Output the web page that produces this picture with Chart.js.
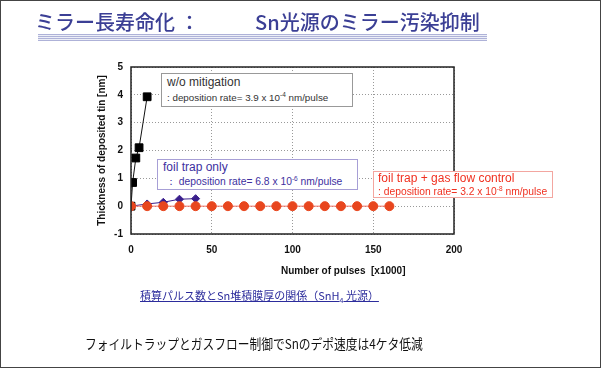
<!DOCTYPE html>
<html>
<head>
<meta charset="utf-8">
<script src="https://cdn.jsdelivr.net/npm/chart.js@4"></script>
<style>
  body { margin: 0; background: #fff; }
  .page { position: relative; width: 601px; height: 368px; overflow: hidden; background: #fff; }
  .frame { position: absolute; left: 0; top: 0; width: 601px; height: 368px; box-sizing: border-box; border: 1px solid #444; pointer-events: none; }
  #myChart { position: absolute; left: 0; top: 0; }
  .jp { font-family: "Noto Sans CJK JP", sans-serif; position: absolute; white-space: nowrap; }
  .title { color: #3b3f95; font-size: 20px; top: 8px; line-height: 28px; font-weight: 500; }
  .rule { position: absolute; left: 38px; top: 34px; width: 449px; height: 7px;
          background: repeating-linear-gradient(#aeb2d8 0 1px, #eceef7 1px 2px); }
  .caption { left: 140px; top: 287px; font-size: 11px; color: #2c2c9c; text-decoration: underline; line-height: 16px; }
  .caption sub { font-size: 7px; }
  .summary { left: 85px; top: 334px; font-size: 13.5px; color: #111; line-height: 18px; transform: scaleX(0.87); transform-origin: left; }
  .box { position: absolute; background: #fff; font-family: "Liberation Sans", Arial, sans-serif; }
  .box span { position: absolute; white-space: nowrap; }
  .box sup { font-size: 6.5px; vertical-align: 4px; }
  .xtitle { position: absolute; left: 281px; top: 265px; font: bold 10px "Liberation Sans", Arial, sans-serif; color: #111; white-space: pre; }
</style>
</head>
<body>
<div class="page">
  <canvas id="myChart" width="601" height="368"></canvas>

  <div class="jp title" style="left:35px">ミラー長寿命化 ：</div>
  <div class="jp title" style="left:255px">Sn光源のミラー汚染抑制</div>
  <div class="rule"></div>

  <div class="xtitle">Number of pulses  [x1000]</div>

  <div class="box" style="left:161px; top:73px; width:190px; height:32px; border:1px solid #999; color:#333;">
    <span style="left:5px; top:1px; font-size:12px;">w/o mitigation</span>
    <span style="left:5px; top:17px; font-size:9.8px;">: deposition rate= 3.9 x 10<sup>-4</sup> nm/pulse</span>
  </div>

  <div class="box" style="left:157px; top:159px; width:199px; height:29px; border:1px solid #a79fd6; color:#4030a0;">
    <span style="left:5px; top:0px; font-size:12px;">foil trap only</span>
    <span style="left:8px; top:15px; font-size:10.3px;">：&nbsp;deposition rate= 6.8 x 10<sup>-6</sup> nm/pulse</span>
  </div>

  <div class="box" style="left:373px; top:171px; width:178px; height:25px; border:1px solid #f3a6a0; color:#f03020;">
    <span style="left:4px; top:-1px; font-size:12px;">foil trap + gas flow control</span>
    <span style="left:4px; top:13px; font-size:10.3px;">: deposition rate= 3.2 x 10<sup>-8</sup> nm/pulse</span>
  </div>

  <div class="jp caption">積算パルス数とSn堆積膜厚の関係（SnH<sub>4</sub> 光源）</div>
  <div class="jp summary">フォイルトラップとガスフロー制御でSnのデポ速度は4ケタ低減</div>

  <div class="frame"></div>
</div>

<script>
// データ
const noMitigationX = [0, 1, 3, 5, 10];
const noMitigationY = [0, 0.85, 1.73, 2.1, 3.93];

const foilTrapX = [0, 10, 20, 30, 40];
const foilTrapY = [0, 0.08, 0.14, 0.25, 0.27];

const gasFlowX = [0, 10, 20, 30, 40, 50, 60, 70, 80, 90, 100, 110, 120, 130, 140, 150, 160];
const gasFlowY = [0, 0, 0, 0, 0, 0, 0, 0, 0, 0, 0, 0, 0, 0, 0, 0, 0];

const xTicks = [0, 50, 100, 150, 200];
const yTicks = [-1, 0, 1, 2, 3, 4, 5];

const toPoints = (xs, ys) => xs.map((x, i) => ({ x: x, y: ys[i] }));

// 枠線
const framePlugin = {
  id: 'frame',
  afterDraw(chart) {
    const { ctx, chartArea } = chart;
    ctx.save();
    ctx.setLineDash([]);
    ctx.strokeStyle = '#222';
    ctx.lineWidth = 1.5;
    ctx.strokeRect(chartArea.left, chartArea.top, chartArea.right - chartArea.left, chartArea.bottom - chartArea.top);
    ctx.restore();
  },
};

const tickFont = { family: '"Liberation Sans", Arial, sans-serif', size: 10, weight: 'bold' };

const ctx = document.getElementById('myChart');
new Chart(ctx, {
  type: 'line',
  data: {
    datasets: [
      {
        label: 'foil trap + gas flow control',
        data: toPoints(gasFlowX, gasFlowY),
        borderColor: '#f07060',
        borderWidth: 1,
        backgroundColor: '#e8461e',
        pointBorderColor: '#e8461e',
        pointStyle: 'circle',
        pointRadius: 4.5,
      },
      {
        label: 'foil trap only',
        data: toPoints(foilTrapX, foilTrapY),
        borderColor: '#3a1f8c',
        borderWidth: 1,
        backgroundColor: '#3a1f8c',
        pointBorderColor: '#3a1f8c',
        pointStyle: 'rectRot',
        pointRadius: 4,
      },
      {
        label: 'w/o mitigation',
        data: toPoints(noMitigationX, noMitigationY),
        borderColor: '#111',
        borderWidth: 1,
        backgroundColor: '#000',
        pointBorderColor: '#000',
        pointStyle: 'rect',
        pointRadius: 5.5,
      },
    ],
  },
  options: {
    responsive: false,
    animation: false,
    layout: { padding: { left: 92, top: 67, right: 147, bottom: 114 } },
    plugins: { legend: { display: false }, tooltip: { enabled: false } },
    scales: {
      x: {
        type: 'linear',
        min: xTicks[0],
        max: xTicks[xTicks.length - 1],
        afterBuildTicks: (scale) => { scale.ticks = xTicks.map((v) => ({ value: v })); },
        afterFit: (scale) => { scale.height = 20; },
        grid: { color: '#999', lineWidth: 1, drawTicks: false },
        border: { display: false, dash: [1, 2] },
        ticks: { color: '#111', font: tickFont, padding: 10, maxRotation: 0 },
      },
      y: {
        min: yTicks[0],
        max: yTicks[yTicks.length - 1],
        afterBuildTicks: (scale) => { scale.ticks = yTicks.map((v) => ({ value: v })); },
        afterFit: (scale) => { scale.width = 39; },
        grid: { color: '#999', lineWidth: 1, drawTicks: false },
        border: { display: false, dash: [1, 2] },
        ticks: { color: '#111', font: tickFont, padding: 8 },
        title: {
          display: true,
          text: 'Thickness of deposited tin [nm]',
          color: '#111',
          font: tickFont,
          padding: { top: 4, bottom: 4 },
        },
      },
    },
  },
  plugins: [framePlugin],
});
</script>
</body>
</html>
